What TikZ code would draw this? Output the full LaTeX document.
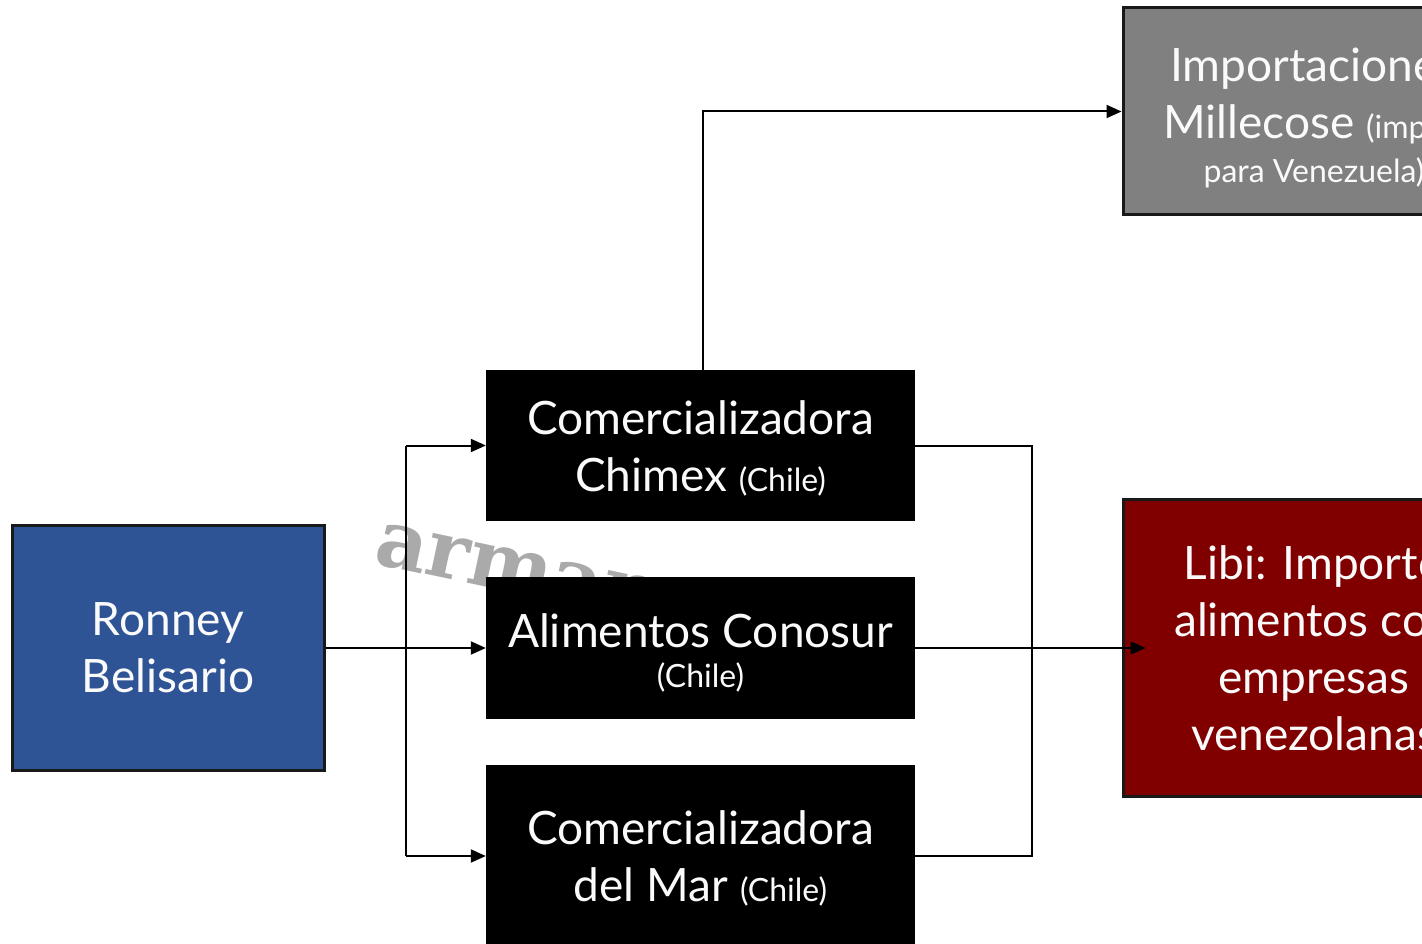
\documentclass[tikz,border=0pt]{standalone}
\usepackage{fontspec}
\setmainfont{Lato}
\newfontfamily\wmfont{DejaVu Serif}
\usetikzlibrary{arrows.meta}
\definecolor{rbblue}{RGB}{47,84,150}
\definecolor{rbred}{RGB}{128,0,0}
\definecolor{rbgray}{RGB}{128,128,128}
\definecolor{rbborder}{RGB}{25,25,25}
\definecolor{wmgray}{RGB}{170,170,170}
\definecolor{rbtext}{RGB}{250,250,250}
\newcommand\bigtxt{\fontsize{46}{57}\selectfont}
\newcommand\smalltxt{\fontsize{32}{40}\selectfont}
\begin{document}
\begin{tikzpicture}[x=1pt,y=-1pt,
  box/.style={draw=rbborder, line width=3pt, text=rbtext, align=center, inner sep=0pt, font=\bigtxt},
  blackbox/.style={fill=black, text=rbtext, align=center, inner sep=0pt, minimum width=429pt, font=\bigtxt},
  conn/.style={line width=2pt, draw=black},
  arr/.style={conn, -{Triangle[length=15pt,width=13pt]}},
  wm/.style={text=wmgray, font=\wmfont\bfseries\fontsize{80}{80}\selectfont, inner sep=0pt}
]
\useasboundingbox (0,0) rectangle (1422,944);
\clip (0,0) rectangle (1422,944);
\fill[white] (0,0) rectangle (1422,944);
\node[wm, rotate=-12, anchor=base west] (wm) at (372,563) {arman};

\node[box, fill=rbblue, minimum width=312pt, minimum height=245pt] (ronney) at (168,647.5) {Ronney\\Belisario};
\node[blackbox, minimum height=151pt] (chimex) at (700.5,445.5) {\rule{0pt}{40pt}Comercializadora\\Chimex {\smalltxt(Chile)}};
\node[blackbox, minimum height=142pt] (alim) at (700.5,648) {\rule{0pt}{44pt}Alimentos Conosur\\[-17pt]{\smalltxt(Chile)}};
\node[blackbox, minimum height=186pt] (delmar) at (700.5,858) {Comercializadora\\del Mar {\smalltxt(Chile)}};
\node[box, fill=rbgray, minimum width=382pt, minimum height=207pt] (import) at (1314,111.5) {\rule{0pt}{46pt}Importaciones\\\makebox[302pt][l]{Millecose {\smalltxt(importadora}}\\[-13pt]{\smalltxt para Venezuela)}};
\node[box, fill=rbred, minimum width=382pt, minimum height=297pt] (libi) at (1314,648) {Libi: Importó\\alimentos con\\empresas\\venezolanas};

\coordinate (lbus) at (406,0);
\coordinate (rbus) at (1032,0);
\draw[conn] (ronney.east) -- (ronney.east -| lbus);
\draw[conn] (chimex.west -| lbus) -- ([yshift=2pt]delmar.west -| lbus);
\draw[arr] (chimex.west -| lbus) -- (chimex.west);
\draw[arr] (alim.west -| lbus) -- (alim.west);
\draw[arr] ([yshift=2pt]delmar.west -| lbus) -- ([yshift=2pt]delmar.west);
\draw[arr] ([xshift=2pt]chimex.north) |- (import.west);
\draw[conn] (chimex.east) -- (chimex.east -| rbus) -- ([yshift=2pt]delmar.east -| rbus) -- ([yshift=2pt]delmar.east);
\draw[arr, shorten >=-24pt] (alim.east) -- (libi.west);
\end{tikzpicture}
\end{document}
